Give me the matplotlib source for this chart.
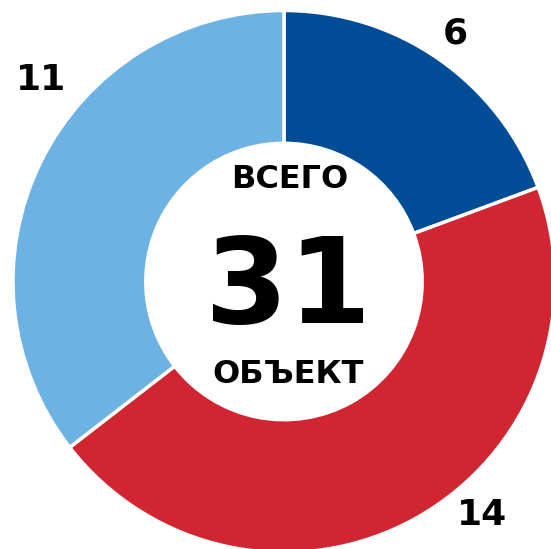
"""
Donut chart: total objects (31) split into three groups.
"""
import matplotlib
matplotlib.use("Agg")
import matplotlib.pyplot as plt

values = [6, 14, 11]
colors = ["#004C97", "#D12631", "#6CB2E2"]
labels = ["6", "14", "11"]
# label anchor points (data units, pie radius = 1)
label_xy = [(0.631, 0.928), (0.731, -0.847), (-0.897, 0.758)]
total = sum(values)


def main():
    W, H = 551, 549
    fig = plt.figure(figsize=(W / 100, H / 100), dpi=100)
    ax = fig.add_axes([0, 0, 1, 1])

    cx, cy, r = 284, 281.5, 271
    ax.pie(values, colors=colors, startangle=90, counterclock=False,
           radius=1.0, wedgeprops=dict(width=0.49, edgecolor="white", linewidth=2.5))
    ax.set_xlim(-cx / r, (W - cx) / r)
    ax.set_ylim(-(H - cy) / r, cy / r)
    ax.set_aspect("auto")
    ax.axis("off")

    for lab, (x, y) in zip(labels, label_xy):
        ax.text(x, y, lab, ha="center", va="center_baseline", fontsize=26,
                fontweight="bold", color="black")

    ax.text(0.022, 0.378, "ВСЕГО", ha="center", va="center", fontsize=23,
            fontweight="bold")
    ax.text(0.017, -0.03, str(total), ha="center", va="center", fontsize=86,
            fontweight="bold")
    ax.text(0.015, -0.345, "ОБЪЕКТ", ha="center", va="center", fontsize=23,
            fontweight="bold")

    fig.savefig("out.png", dpi=100)
    plt.close(fig)


if __name__ == "__main__":
    main()
